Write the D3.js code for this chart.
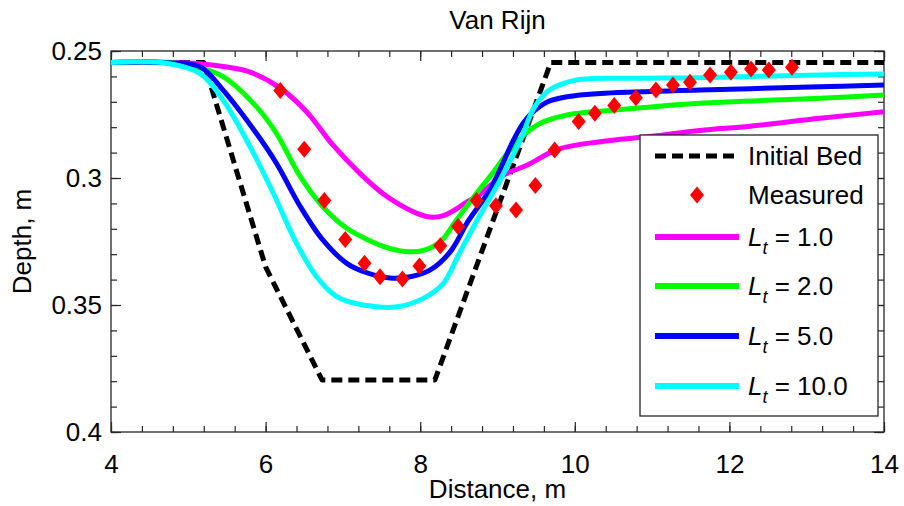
<!DOCTYPE html>
<html>
<head>
<meta charset="utf-8">
<script src="https://cdn.jsdelivr.net/npm/d3@7"></script>
<style>
  html, body { margin: 0; padding: 0; background: #fff; }
  svg { display: block; font-family: Arial, "Liberation Sans", Helvetica, sans-serif; }
</style>
</head>
<body>
<svg id="chart" width="904" height="506"></svg>
<script>
// ---------------- data ----------------
const title = "Van Rijn";
const xLabel = "Distance, m";
const yLabel = "Depth, m";

const xTickLabels = [4, 6, 8, 10, 12, 14];
const yTickLabels = [0.25, 0.3, 0.35, 0.4];

// Initial bed
const bedX = [4, 5.2, 6.0, 6.73, 8.19, 9.69, 14];
const bedD = [0.2545, 0.2545, 0.335, 0.3795, 0.3795, 0.2545, 0.2545];

// Measured
const measX = [6.19, 6.5, 6.76, 7.03, 7.28, 7.48, 7.77, 7.99, 8.26, 8.49, 8.73, 8.98, 9.24, 9.49,
               9.74, 10.05, 10.26, 10.51, 10.79, 11.05, 11.27, 11.49, 11.75, 12.02, 12.28, 12.51, 12.81];
const measD = [0.2656, 0.2887, 0.3089, 0.3242, 0.3336, 0.3389, 0.3398, 0.3346, 0.3267, 0.3191, 0.3089,
               0.3109, 0.3126, 0.3030, 0.2890, 0.2778, 0.2745, 0.2715, 0.2684, 0.2654, 0.2634, 0.2623,
               0.2594, 0.2584, 0.2571, 0.2575, 0.2564];

// Lt = 1.0
const lt1X = [4, 4.7, 5.15, 5.5, 5.8, 6.19, 6.53, 6.87, 7.22, 7.52, 7.74, 7.95, 8.13, 8.3, 8.45, 8.6, 8.75,
              8.9, 9.1, 9.38, 9.77, 10.33, 10.97, 11.62, 12.27, 13.17, 14];
const lt1D = [0.2545, 0.2545, 0.2550, 0.2563, 0.2583, 0.2646, 0.2739, 0.2870, 0.2982, 0.3062, 0.3106,
              0.3138, 0.3154, 0.3148, 0.3125, 0.3095, 0.3070, 0.3030, 0.2985, 0.2950, 0.2888, 0.2857,
              0.2837, 0.2813, 0.2796, 0.2765, 0.2739];

// Lt = 2.0
const lt2X = [4, 4.8, 5.15, 5.45, 5.88, 6.14, 6.45, 6.74, 7.05, 7.3, 7.55, 7.8, 8.03, 8.26, 8.47, 8.73,
              8.95, 9.16, 9.35, 9.55, 9.9, 10.4, 10.75, 11.62, 13.17, 14];
const lt2D = [0.2545, 0.2546, 0.2567, 0.2601, 0.2719, 0.2824, 0.2995, 0.3113, 0.3198, 0.3240, 0.3272,
              0.3289, 0.3286, 0.3251, 0.3165, 0.3060, 0.2975, 0.2890, 0.2828, 0.2785, 0.2752, 0.2735,
              0.2726, 0.2706, 0.2686, 0.2673];

// Lt = 5.0
const lt5X = [4, 4.72, 5.15, 5.45, 5.88, 6.14, 6.45, 6.74, 7.05, 7.3, 7.61, 7.87, 8.13, 8.39, 8.62, 8.9,
              9.05, 9.2, 9.33, 9.46, 9.65, 9.9, 10.33, 11.62, 13.17, 14];
const lt5D = [0.2545, 0.2546, 0.2562, 0.2654, 0.2824, 0.2942, 0.3113, 0.3244, 0.3336, 0.3372, 0.3394,
              0.3389, 0.3362, 0.3290, 0.3170, 0.3047, 0.2955, 0.2855, 0.2785, 0.2740, 0.2700, 0.2680,
              0.2667, 0.2654, 0.2641, 0.2634];

// Lt = 10.0
const lt10X = [4, 4.72, 5.15, 5.45, 5.8, 6.1, 6.4, 6.66, 6.92, 7.26, 7.7, 8.04, 8.3, 8.5, 8.73, 9.03,
               9.29, 9.46, 9.6, 9.72, 10.02, 10.75, 11.62, 13.17, 14];
const lt10D = [0.2545, 0.2548, 0.2588, 0.2693, 0.2877, 0.3060, 0.3257, 0.3389, 0.3467, 0.3500, 0.3507,
               0.3474, 0.3415, 0.3300, 0.3170, 0.3010, 0.2855, 0.2730, 0.2672, 0.2645, 0.2614, 0.2607,
               0.2605, 0.2594, 0.2591];

const seriesNames = ["1.0", "2.0", "5.0", "10.0"];
const seriesColors = ["#ff00ff", "#00ff00", "#0000ff", "#00ffff"];

// ---------------- drawing ----------------
const W = 904, H = 506;
const margin = { left: 111, right: 20, top: 51, bottom: 74 };
const svg = d3.select("#chart");
const FONT = 26;
const AX = "#262626";

const x = d3.scaleLinear().domain([4, 14]).range([margin.left, W - margin.right]);
const y = d3.scaleLinear().domain([0.25, 0.4]).range([margin.top, H - margin.bottom]);
const x0 = x.range()[0], x1 = x.range()[1], y0 = y.range()[0], y1 = y.range()[1];

svg.append("rect").attr("width", W).attr("height", H).attr("fill", "#fff");

// plot frame
svg.append("rect").attr("x", x0).attr("y", y0).attr("width", x1 - x0).attr("height", y1 - y0)
  .attr("fill", "none").attr("stroke", AX).attr("stroke-width", 1.3);

const xMinor = d3.range(0, 26).map(i => +(4 + i * 0.4).toFixed(2));
const yMinor = d3.range(0, 16).map(i => +(0.25 + i * 0.01).toFixed(3));

function styleAxis(g) {
  g.select(".domain").remove();
  g.selectAll(".tick line").attr("stroke", AX).attr("stroke-width", 1.2);
  g.selectAll(".tick text").attr("fill", "#000").style("font-size", FONT + "px")
    .style("font-family", "Arial, 'Liberation Sans', sans-serif");
}

// minor ticks, four sides
svg.append("g").attr("transform", `translate(0,${y1})`)
  .call(d3.axisBottom(x).tickValues(xMinor).tickSize(-6).tickFormat("")).call(styleAxis);
svg.append("g").attr("transform", `translate(0,${y0})`)
  .call(d3.axisTop(x).tickValues(xMinor).tickSize(-6).tickFormat("")).call(styleAxis);
svg.append("g").attr("transform", `translate(${x0},0)`)
  .call(d3.axisLeft(y).tickValues(yMinor).tickSize(-6).tickFormat("")).call(styleAxis);
svg.append("g").attr("transform", `translate(${x1},0)`)
  .call(d3.axisRight(y).tickValues(yMinor).tickSize(-6).tickFormat("")).call(styleAxis);

// major ticks with labels
svg.append("g").attr("transform", `translate(0,${y1})`)
  .call(d3.axisBottom(x).tickValues(xTickLabels).tickSize(-10).tickPadding(23).tickFormat(d3.format("d")))
  .call(styleAxis);
svg.append("g").attr("transform", `translate(0,${y0})`)
  .call(d3.axisTop(x).tickValues(xTickLabels).tickSize(-10).tickFormat("")).call(styleAxis);
svg.append("g").attr("transform", `translate(${x0},0)`)
  .call(d3.axisLeft(y).tickValues(yTickLabels).tickSize(-10).tickPadding(9).tickFormat(d => String(d)))
  .call(styleAxis);
svg.append("g").attr("transform", `translate(${x1},0)`)
  .call(d3.axisRight(y).tickValues(yTickLabels).tickSize(-10).tickFormat("")).call(styleAxis);

// titles
svg.append("text").attr("x", (x0 + x1) / 2).attr("y", 29).attr("text-anchor", "middle")
  .style("font-size", FONT + "px").text(title);
svg.append("text").attr("x", (x0 + x1) / 2).attr("y", 498).attr("text-anchor", "middle")
  .style("font-size", FONT + "px").text(xLabel);
svg.append("text").attr("transform", `translate(31,${(y0 + y1) / 2}) rotate(-90)`)
  .attr("text-anchor", "middle").style("font-size", FONT + "px").text(yLabel);

// lines
const zip = (xs, ds) => xs.map((v, i) => [v, ds[i]]);
const lineLin = d3.line().x(d => x(d[0])).y(d => y(d[1]));
const lineSmooth = d3.line().x(d => x(d[0])).y(d => y(d[1])).curve(d3.curveCatmullRom.alpha(0.5));

const plot = svg.append("g");
plot.append("path").datum(zip(bedX, bedD)).attr("d", lineLin)
  .attr("fill", "none").attr("stroke", "#000").attr("stroke-width", 5)
  .attr("stroke-dasharray", "11,6").attr("stroke-linejoin", "round");

const curves = [zip(lt1X, lt1D), zip(lt2X, lt2D), zip(lt5X, lt5D), zip(lt10X, lt10D)];
curves.forEach((c, i) => {
  plot.append("path").datum(c).attr("d", lineSmooth)
    .attr("fill", "none").attr("stroke", seriesColors[i]).attr("stroke-width", 5)
    .attr("stroke-linejoin", "round");
});

const diamond = "M0,-8.5L7,0L0,8.5L-7,0Z";
plot.selectAll("path.meas").data(zip(measX, measD)).enter().append("path")
  .attr("class", "meas").attr("d", diamond)
  .attr("transform", d => `translate(${x(d[0])},${y(d[1])})`)
  .attr("fill", "#ff0000");

// legend
const lg = svg.append("g");
const lgX = 640, lgY = 135, lgW = 238, lgH = 281;
lg.append("rect").attr("x", lgX).attr("y", lgY).attr("width", lgW).attr("height", lgH)
  .attr("fill", "#fff").attr("stroke", AX).attr("stroke-width", 1.3);

const sx0 = lgX + 15, sx1 = lgX + 99, tx = lgX + 108;
const rowY = [lgY + 21, lgY + 60, lgY + 102, lgY + 151, lgY + 201, lgY + 251];

lg.append("line").attr("x1", sx0).attr("x2", sx1).attr("y1", rowY[0]).attr("y2", rowY[0])
  .attr("stroke", "#000").attr("stroke-width", 5).attr("stroke-dasharray", "11,6");
lg.append("text").attr("x", tx).attr("y", rowY[0] + 9).style("font-size", FONT + "px").text("Initial Bed");

lg.append("path").attr("d", diamond).attr("fill", "#ff0000")
  .attr("transform", `translate(${(sx0 + sx1) / 2},${rowY[1]})`);
lg.append("text").attr("x", tx).attr("y", rowY[1] + 9).style("font-size", FONT + "px").text("Measured");

seriesNames.forEach((nm, i) => {
  const yy = rowY[i + 2];
  lg.append("line").attr("x1", sx0).attr("x2", sx1).attr("y1", yy).attr("y2", yy)
    .attr("stroke", seriesColors[i]).attr("stroke-width", 6);
  const t = lg.append("text").attr("x", tx).attr("y", yy + 9).style("font-size", FONT + "px");
  t.append("tspan").style("font-style", "italic").text("L");
  t.append("tspan").style("font-style", "italic").style("font-size", "18px").attr("dy", 8).text("t");
  t.append("tspan").attr("dy", -8).text(" = " + nm);
});
</script>
</body>
</html>
